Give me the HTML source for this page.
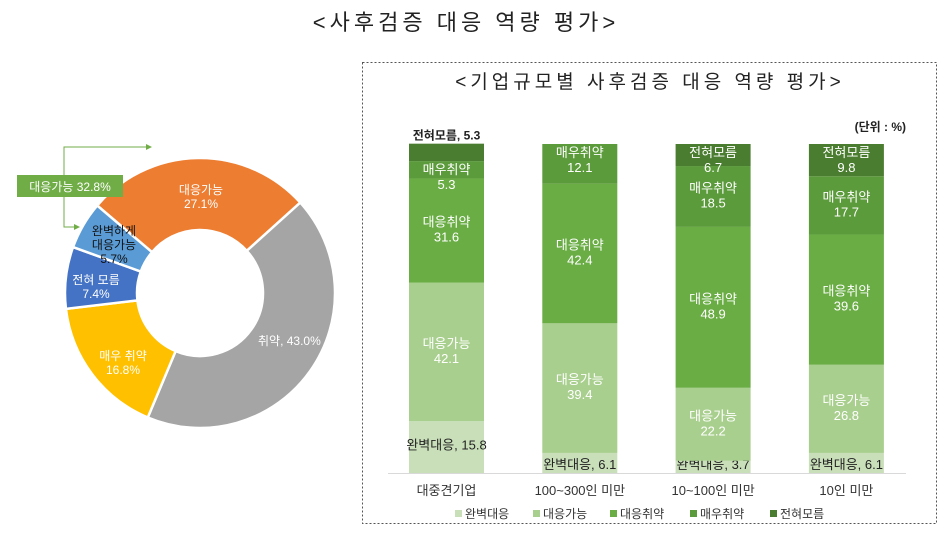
<!DOCTYPE html>
<html><head><meta charset="utf-8">
<style>
html,body{margin:0;padding:0;background:#fff;}
body{width:947px;height:540px;position:relative;overflow:hidden;font-family:"Liberation Sans","Noto Sans CJK KR",sans-serif;}
svg text{font-family:"Liberation Sans","Noto Sans CJK KR",sans-serif;}
</style></head>
<body>
<svg id="c" width="947" height="540" xmlns="http://www.w3.org/2000/svg">
<text x="466" y="30" text-anchor="middle" font-size="22" fill="#222" letter-spacing="4">&lt;사후검증 대응 역량 평가&gt;</text>
<rect x="362.5" y="62.5" width="574" height="461" fill="none" stroke="#555" stroke-dasharray="2,2"/>
<text x="650" y="88" text-anchor="middle" font-size="19" fill="#222" letter-spacing="4">&lt;기업규모별 사후검증 대응 역량 평가&gt;</text>
<text x="906" y="131" text-anchor="end" font-size="12" font-weight="bold" fill="#222">(단위 : %)</text>
<g id="donut"></g>
<g id="bars"></g>
</svg>
<script>
const NS='http://www.w3.org/2000/svg';
const svg=document.getElementById('c');
function mk(tag,attrs,parent,text){const e=document.createElementNS(NS,tag);for(const k in attrs)e.setAttribute(k,attrs[k]);if(text!==undefined)e.textContent=text;(parent||svg).appendChild(e);return e;}

// ---- Donut data ----
const donutLabels=['대응가능','취약','매우 취약','전혀 모름','완벽하게 대응가능'];
const donutValues=[27.1,43.0,16.8,7.4,5.7];
const donutColors=['#ed7d31','#a5a5a5','#ffc000','#4472c4','#5b9bd5'];
const dg=document.getElementById('donut');
const cx=200,cy=293,R=135,r=63,start=-49.6;
function pt(a,rad){const t=(a-90)*Math.PI/180;return [cx+rad*Math.cos(t),cy+rad*Math.sin(t)];}
let ang=start;
const total=donutValues.reduce((a,b)=>a+b,0);
donutValues.forEach((v,i)=>{
  const a0=ang,a1=ang+v/total*360;ang=a1;
  const large=(a1-a0)>180?1:0;
  const p0=pt(a0,R),p1=pt(a1,R),q1=pt(a1,r),q0=pt(a0,r);
  const p=mk('path',{d:`M${p0[0]},${p0[1]} A${R},${R} 0 ${large} 1 ${p1[0]},${p1[1]} L${q1[0]},${q1[1]} A${r},${r} 0 ${large} 0 ${q0[0]},${q0[1]} Z`,fill:donutColors[i],stroke:'#fff','stroke-width':2.5},dg);
  
  
});
function dtext(x,y,lines,fill,anchor){const t=mk('text',{x:x,y:y,'text-anchor':anchor||'middle','font-size':12,fill:fill},dg);lines.forEach((l,k)=>{mk('tspan',{x:x,dy:k?14:0},t,l);});return t;}
let t;
t=dtext(201,194,['대응가능','27.1%'],'#fff');
t=dtext(258,345,['취약, 43.0%'],'#fff','start');
t=dtext(123,360,['매우 취약','16.8%'],'#fff');
t=dtext(96,284,['전혀 모름','7.4%'],'#fff');
t=dtext(114,235,['완벽하게','대응가능','5.7%'],'#111');
const br=mk('path',{d:'M150,147 L64,147 L64,227 L78,227',fill:'none',stroke:'#70ad47','stroke-width':1},dg);

mk('path',{d:'M146,144 L152,147 L146,150 Z M74,224 L80,227 L74,230 Z',fill:'#70ad47'},dg);
const cb=mk('rect',{x:17,y:175,width:106,height:22,fill:'#70ad47'},dg);

t=mk('text',{x:70,y:191,'text-anchor':'middle','font-size':12,fill:'#fff'},dg,'대응가능 32.8%');


// ---- Bar data ----
const categories=['대중견기업','100~300인 미만','10~100인 미만','10인 미만'];
const seriesNames=['완벽대응','대응가능','대응취약','매우취약','전혀모름'];
const perfect=[15.8,6.1,3.7,6.1];
const possible=[42.1,39.4,22.2,26.8];
const weak=[31.6,42.4,48.9,39.6];
const veryWeak=[5.3,12.1,18.5,17.7];
const unknown=[5.3,0,6.7,9.8];
const series=[perfect,possible,weak,veryWeak,unknown];
const colors=['#c9dfb9','#a9cf8e','#6aad45','#5c9b3b','#4a7d2f'];
const bg=document.getElementById('bars');
const base=473,plotH=329,x0=409,step=133.3,bw=75;
const yS=v=>v/100*plotH;
const ax=mk('line',{x1:388,x2:906,y1:base+0.5,y2:base+0.5,stroke:'#d9d9d9'},bg);

categories.forEach((c,i)=>{
  const x=x0+i*step;let acc=0;
  series.forEach((s,j)=>{
    const v=s[i];if(!v)return;
    const y=base-yS(acc+v);
    acc+=v;
    const h=yS(v);
    const rc=mk('rect',{x:x,y:y,width:bw,height:h,fill:colors[j]},bg);
    
    
    const mid=y+h/2;
    let lt;
    if(j===0){
      const ly=v>10?y+h*0.55:base-4;
      lt=mk('text',{x:x+bw/2,y:ly,'text-anchor':'middle','font-size':13,fill:'#222'},bg,seriesNames[0]+', '+v);
    } else if(j===4 && v<6){
      lt=mk('text',{x:x+bw/2,y:y-4,'text-anchor':'middle','font-size':12,'font-weight':'bold',fill:'#222'},bg,seriesNames[4]+', '+v);
    } else {
      const yy=(h<40)?y+13:mid-4;
      lt=mk('text',{x:x+bw/2,y:yy,'text-anchor':'middle','font-size':13,fill:'#fff'},bg);
      mk('tspan',{x:x+bw/2,dy:0},lt,seriesNames[j]);
      mk('tspan',{x:x+bw/2,dy:15},lt,String(v));
    }
    
    
  });
  const cl=mk('text',{x:x+bw/2,y:495,'text-anchor':'middle','font-size':13,fill:'#333'},bg,c);
  
  
});
const lx=[455,533,610,690,770];
seriesNames.forEach((n,j)=>{
  const sw=mk('rect',{x:lx[j],y:510,width:7,height:7,fill:colors[j]},bg);
  
  
  const lt=mk('text',{x:lx[j]+10,y:518,'font-size':12,fill:'#333'},bg,n);
  
  
});
</script>
</body></html>
